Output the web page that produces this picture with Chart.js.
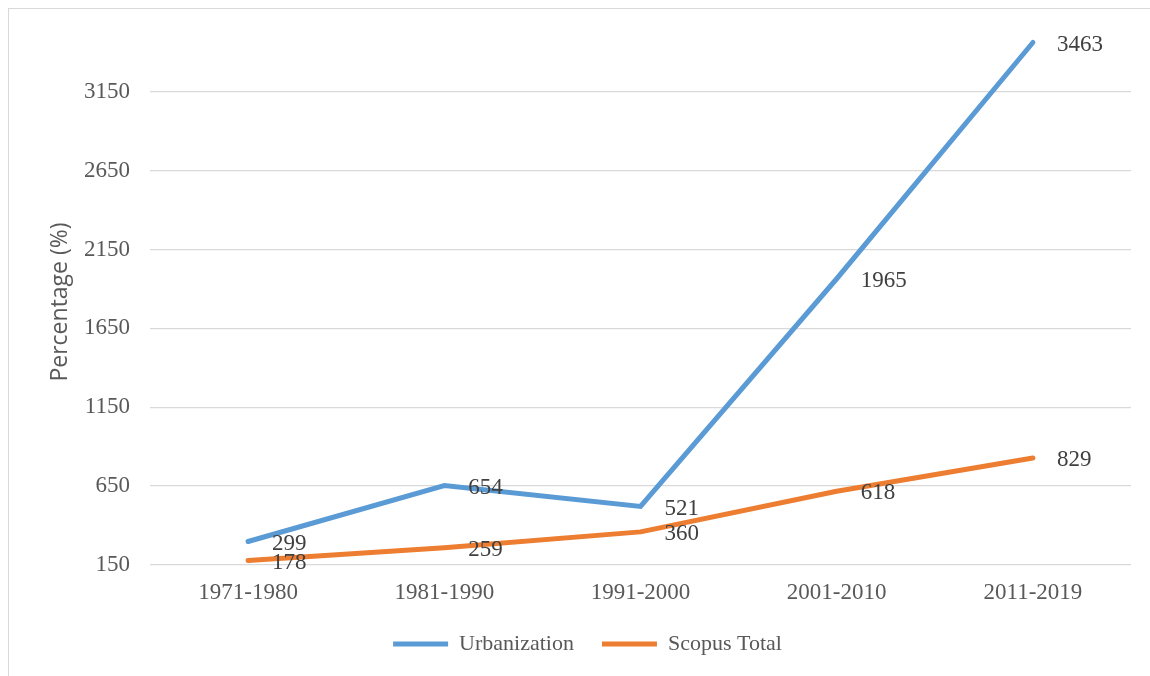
<!DOCTYPE html>
<html>
<head>
<meta charset="utf-8">
<script src="https://cdn.jsdelivr.net/npm/chart.js@4.4.0/dist/chart.umd.min.js"></script>
<style>
  html, body { margin: 0; padding: 0; background: #fff; overflow: hidden; }
  #frame { position: absolute; left: 8px; top: 8px; width: 1160px; height: 700px; border: 1px solid #d9d9d9; box-sizing: border-box; }
  #wrap { position: absolute; left: 0; top: 0; width: 1150px; height: 676px; }
</style>
</head>
<body>
<div id="frame"></div>
<div id="wrap"><canvas id="chart"></canvas></div>
<script>
// data
const periods = ["1971-1980", "1981-1990", "1991-2000", "2001-2010", "2011-2019"];
const urbanization = [299, 654, 521, 1965, 3463];
const scopusTotal = [178, 259, 360, 618, 829];

// draws the values to the right of each point, and the y title
const pointLabels = {
  id: 'pointLabels',
  afterDatasetsDraw(chart) {
    const ctx = chart.ctx;
    ctx.save();
    ctx.font = '23px "Liberation Serif", serif';
    ctx.fillStyle = '#404040';
    ctx.textAlign = 'left';
    ctx.textBaseline = 'middle';
    chart.data.datasets.forEach((ds, i) => {
      chart.getDatasetMeta(i).data.forEach((pt, j) => {
        ctx.fillText(ds.data[j], pt.x + 24, pt.y + 2);
      });
    });
    ctx.restore();

    // y axis title
    ctx.save();
    ctx.translate(60, 302);
    ctx.rotate(-Math.PI / 2);
    ctx.font = '23px "Open Sans", sans-serif';
    ctx.fillStyle = '#595959';
    ctx.textAlign = 'center';
    ctx.textBaseline = 'middle';
    ctx.fillText('Percentage (%)', 0, 0);
    ctx.restore();
  }
};

const ctx = document.getElementById('chart').getContext('2d');
new Chart(ctx, {
  type: 'line',
  data: {
    labels: periods,
    datasets: [{
      label: 'Urbanization',
      data: urbanization,
      borderColor: '#5B9BD5',
      backgroundColor: '#5B9BD5',
      borderWidth: 5,
      borderCapStyle: 'round',
      borderJoinStyle: 'miter',
      pointRadius: 0,
      tension: 0
    }, {
      label: 'Scopus Total',
      data: scopusTotal,
      borderColor: '#ED7D31',
      backgroundColor: '#ED7D31',
      borderWidth: 5,
      borderCapStyle: 'round',
      borderJoinStyle: 'round',
      pointRadius: 0,
      tension: 0
    }]
  },
  options: {
    responsive: true,
    maintainAspectRatio: false,
    animation: false,
    layout: { padding: { left: 44, top: 13, right: 19, bottom: 11 } },
    scales: {
      x: {
        offset: true,
        grid: { display: false, drawTicks: false },
        border: { display: false },
        ticks: {
          color: '#595959',
          padding: 14,
          maxRotation: 0,
          font: { family: '"Liberation Serif", serif', size: 23 }
        },
        afterFit(scale) { scale.height = 40; }
      },
      y: {
        min: 150,
        max: 3650,
        grid: { color: '#d9d9d9', lineWidth: 1.3, drawTicks: false },
        border: { display: false },
        ticks: {
          stepSize: 500,
          color: '#595959',
          padding: 20,
          font: { family: '"Liberation Serif", serif', size: 23 },
          callback: v => String(v)
        },
        afterBuildTicks(scale) {
          scale.ticks = scale.ticks.filter(t => t.value < 3650);
        },
        afterFit(scale) {
          scale.width = 106;
          scale.paddingTop = 0;
          scale.paddingBottom = 0;
        }
      }
    },
    plugins: {
      legend: {
        position: 'bottom',
        labels: {
          usePointStyle: true,
          pointStyle: 'line',
          pointStyleWidth: 55,
          boxHeight: 20,
          padding: 28,
          color: '#595959',
          font: { family: '"Liberation Serif", serif', size: 22 }
        }
      },
      tooltip: { enabled: false }
    }
  },
  plugins: [pointLabels]
});
</script>
</body>
</html>
